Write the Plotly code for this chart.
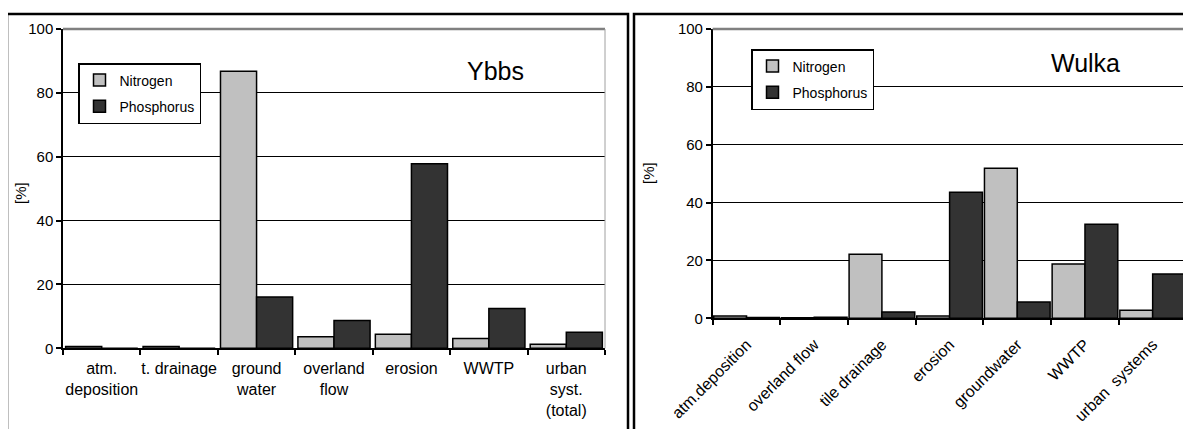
import plotly.graph_objects as go

# ---- data ----
ybbs_categories = ["atm.<br>deposition", "t. drainage", "ground<br>water", "overland<br>flow",
                   "erosion", "WWTP", "urban<br>syst.<br>(total)"]
ybbs_nitrogen = [0.6, 0.6, 86.8, 3.6, 4.4, 3.1, 1.3]
ybbs_phosphorus = [0.0, 0.0, 16.1, 8.7, 57.8, 12.5, 5.0]

wulka_categories = ["atm.deposition", "overland flow", "tile drainage", "erosion",
                    "groundwater", "WWTP", "urban  systems"]
wulka_nitrogen = [0.8, 0.2, 22.1, 0.8, 51.9, 18.8, 2.8]
wulka_phosphorus = [0.3, 0.4, 2.2, 43.6, 5.6, 32.5, 15.3]

y_ticks = [0, 20, 40, 60, 80, 100]
y_ticktext = ["0", "20", "40", "60", "80", "100"]

# page has an 8px body margin; figure coordinates are shifted accordingly
OFF = 8
W, H = 1191 - OFF, 429 - OFF
N_COLOR = "#c0c0c0"
P_COLOR = "#333333"
FONT = "Liberation Sans, Arial, sans-serif"


def px(x):
    return (x - OFF) / W


def py(y):
    return 1 - (y - OFF) / H


fig = go.Figure()

bar_line = dict(color="black", width=1.5)
# Ybbs
wl = 0.466
fig.add_trace(go.Bar(x=ybbs_categories, y=ybbs_nitrogen, name="Nitrogen",
                     marker=dict(color=N_COLOR, line=bar_line), legendgroup="nL",
                     width=wl, offset=-wl, xaxis="x", yaxis="y", legend="legend"))
fig.add_trace(go.Bar(x=ybbs_categories, y=ybbs_phosphorus, name="Phosphorus",
                     marker=dict(color=P_COLOR, line=bar_line), legendgroup="pL",
                     width=wl, offset=0, xaxis="x", yaxis="y", legend="legend"))
# Wulka
wr = 0.485
fig.add_trace(go.Bar(x=wulka_categories, y=wulka_nitrogen, name="Nitrogen",
                     marker=dict(color=N_COLOR, line=bar_line), legendgroup="nR",
                     width=wr, offset=-wr, xaxis="x2", yaxis="y2", legend="legend2"))
fig.add_trace(go.Bar(x=wulka_categories, y=wulka_phosphorus, name="Phosphorus",
                     marker=dict(color=P_COLOR, line=bar_line), legendgroup="pR",
                     width=wr, offset=0, xaxis="x2", yaxis="y2", legend="legend2"))

xcommon = dict(type="category", showline=True, linecolor="black", linewidth=1.5,
               ticks="outside", tickson="boundaries", ticklen=5, tickcolor="black",
               tickwidth=1.5, showgrid=False, zeroline=False, automargin=False)
ycommon = dict(range=[0, 100], tickvals=y_ticks, ticktext=y_ticktext, showline=True,
               linecolor="black", linewidth=1.5, ticks="outside", ticklen=5,
               tickcolor="black", tickwidth=1.5, showgrid=True, gridcolor="black",
               gridwidth=1, zeroline=False, automargin=False,
               tickfont=dict(family=FONT, size=15, color="black"))

legcommon = dict(bgcolor="white", bordercolor="black", borderwidth=1.5,
                 font=dict(family=FONT, size=14, color="black"),
                 xanchor="left", yanchor="top", tracegroupgap=5, itemwidth=30,
                 traceorder="grouped")

fig.update_layout(
    template="none",
    width=W, height=H,
    margin=dict(l=0, r=0, t=0, b=0, autoexpand=False),
    paper_bgcolor="white", plot_bgcolor="white",
    barmode="overlay",
    xaxis=dict(domain=[px(63), px(605)], anchor="y", tickangle=0, ticklabelstandoff=5,
               tickfont=dict(family=FONT, size=16, color="black"), **xcommon),
    yaxis=dict(domain=[py(348.3), py(29)], anchor="x", **ycommon),
    xaxis2=dict(domain=[px(712.7), px(1186.5)], anchor="y2", tickangle=-45,
                ticklabelstandoff=9,
                tickfont=dict(family=FONT, size=16, color="black"), **xcommon),
    yaxis2=dict(domain=[py(318.3), py(29)], anchor="x2", **ycommon),
    legend=dict(x=px(78), y=py(63), **legcommon),
    legend2=dict(x=px(751), y=py(49), **legcommon),
    showlegend=True,
)

shapes = []
# panel frames
shapes.append(dict(type="rect", xref="paper", yref="paper", x0=px(7), x1=px(628),
                   y0=-0.05, y1=py(14), line=dict(color="black", width=2.5)))
shapes.append(dict(type="rect", xref="paper", yref="paper", x0=px(634), x1=1.05,
                   y0=-0.05, y1=py(14), line=dict(color="black", width=2.5)))
# grey plot-area border (top & right)
for xd, yd in (("x domain", "y domain"), ("x2 domain", "y2 domain")):
    shapes.append(dict(type="line", xref=xd, yref=yd, x0=0, x1=1, y0=1, y1=1,
                       line=dict(color="#808080", width=2.5)))
    shapes.append(dict(type="line", xref=xd, yref=yd, x0=1, x1=1, y0=0, y1=1,
                       line=dict(color="#a0a0a0", width=1)))
fig.update_layout(shapes=shapes)

annotations = [
    dict(text="Ybbs", xref="paper", yref="paper", x=px(495), y=py(71), showarrow=False,
         xanchor="center", yanchor="middle", font=dict(family=FONT, size=25, color="black")),
    dict(text="Wulka", xref="paper", yref="paper", x=px(1085), y=py(63), showarrow=False,
         xanchor="center", yanchor="middle", font=dict(family=FONT, size=25, color="black")),
    dict(text="[%]", xref="paper", yref="paper", x=px(20), y=py(193), showarrow=False,
         textangle=-90, xanchor="center", yanchor="middle",
         font=dict(family=FONT, size=15, color="black")),
    dict(text="[%]", xref="paper", yref="paper", x=px(648), y=py(173), showarrow=False,
         textangle=-90, xanchor="center", yanchor="middle",
         font=dict(family=FONT, size=15, color="black")),
]
fig.update_layout(annotations=annotations)

fig.write_html("out.html")
